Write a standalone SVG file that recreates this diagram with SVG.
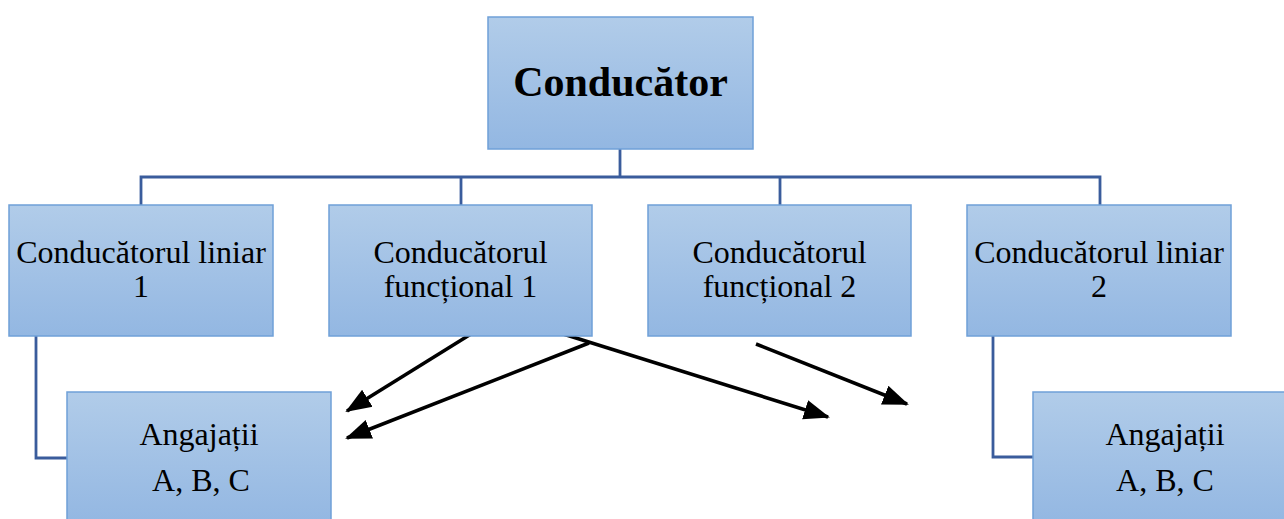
<svg xmlns="http://www.w3.org/2000/svg" width="1284" height="519" viewBox="0 0 1284 519">
<style>
.box{fill:url(#g);stroke:#6FA0D8;stroke-width:1.5}
.t{font-family:"Liberation Serif","Times New Roman",serif;font-size:32px;fill:#000;text-anchor:middle}
.title{font-family:"Liberation Serif","Times New Roman",serif;font-size:42px;font-weight:bold;fill:#000;text-anchor:middle}
.conn{fill:none;stroke:#3A5C9C;stroke-width:2.8}
.arr{fill:none;stroke:#000;stroke-width:3.5;marker-end:url(#ah)}
</style>
<defs>
<linearGradient id="g" x1="0" y1="0" x2="0" y2="1">
<stop offset="0" stop-color="#B1CCE9"/>
<stop offset="1" stop-color="#93B7E2"/>
</linearGradient>
<marker id="ah" markerUnits="userSpaceOnUse" markerWidth="26" markerHeight="22" refX="24" refY="11" orient="auto">
<path d="M0,1 L26,11 L0,21 Z" fill="#000"/>
</marker>
</defs>
<g id="connectors">
<path class="conn" d="M620,149 V177"/>
<path class="conn" d="M141,205 V177 H1100 V205"/>
<path class="conn" d="M461,177 V205"/>
<path class="conn" d="M780,177 V205"/>
<path class="conn" d="M36,336 V458 H67"/>
<path class="conn" d="M993,336 V457 H1033"/>
<line class="arr" x1="471" y1="334" x2="347" y2="411"/>
<line class="arr" x1="589" y1="343" x2="347" y2="438"/>
<line class="arr" x1="560" y1="333" x2="828" y2="417"/>
<line class="arr" x1="756" y1="344" x2="907" y2="404"/>
</g>
<g id="conducator">
<rect class="box" x="488" y="17" width="265" height="132"/>
<text class="title" x="620.5" y="96">Conducător</text>
</g>
<g id="liniar1">
<rect class="box" x="9" y="205" width="264" height="131"/>
<text class="t" x="141" y="263">Conducătorul liniar</text>
<text class="t" x="141" y="297">1</text>
</g>
<g id="functional1">
<rect class="box" x="329" y="205" width="263" height="131"/>
<text class="t" x="460.5" y="263">Conducătorul</text>
<text class="t" x="460.5" y="297">funcțional 1</text>
</g>
<g id="functional2">
<rect class="box" x="648" y="205" width="263" height="131"/>
<text class="t" x="779.5" y="263">Conducătorul</text>
<text class="t" x="779.5" y="297">funcțional 2</text>
</g>
<g id="liniar2">
<rect class="box" x="967" y="205" width="264" height="131"/>
<text class="t" x="1099" y="263">Conducătorul liniar</text>
<text class="t" x="1099" y="297">2</text>
</g>
<g id="angajati1">
<rect class="box" x="67" y="392" width="264" height="132"/>
<text class="t" x="199" y="445">Angajații</text>
<text class="t" x="201" y="491">A, B, C</text>
</g>
<g id="angajati2">
<rect class="box" x="1033" y="392" width="264" height="132"/>
<text class="t" x="1165" y="445">Angajații</text>
<text class="t" x="1165" y="491">A, B, C</text>
</g>
</svg>
